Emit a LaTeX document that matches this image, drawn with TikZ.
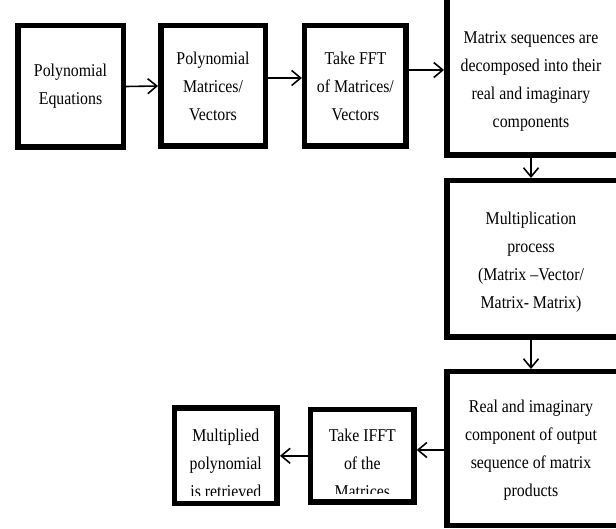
\documentclass[tikz,border=0pt]{standalone}
\usepackage{fontspec}
\setmainfont{Liberation Serif}[FakeStretch=0.88]
\usetikzlibrary{arrows.meta}
\begin{document}
\begin{tikzpicture}[x=1pt,y=-1pt,
  box/.style={draw=black, line width=5.5pt, fill=white, rectangle, inner sep=0pt},
  txt/.style={align=center, inner sep=0pt, font=\fontsize{18}{28}\selectfont},
  arr/.style={line width=1.6pt, -{Straight Barb[length=9pt,width=15pt,line width=1.6pt]}}]
\clip (0,0) rectangle (616,529);
\fill[white] (0,0) rectangle (616,529);
% top row
\node[box, minimum width=105.5pt, minimum height=121.5pt, txt] (b1) at (70.5,86.5) {Polynomial\\Equations};
\node[box, minimum width=104.5pt, minimum height=120.5pt, txt] (b2) at (213,86) {Polynomial\\Matrices/\\Vectors};
\node[box, minimum width=101.5pt, minimum height=120.5pt, txt] (b3) at (355.4,86) {Take FFT\\of Matrices/\\Vectors};
\node[box, minimum width=180.5pt, minimum height=182.5pt] (b4) at (537,64) {};
\node[txt] (t4) at (531,81) {Matrix sequences are\\decomposed into their\\real and imaginary\\components};
% right column
\node[box, minimum width=180.5pt, minimum height=156.5pt] (b5) at (537,259) {};
\node[txt] (t5) at (531,262) {Multiplication\\process\\(Matrix –Vector/\\Matrix- Matrix)};
\node[box, minimum width=180.5pt, minimum height=153.5pt] (b6) at (537,448.5) {};
\node[txt] (t6) at (531,450) {Real and imaginary\\component of output\\sequence of matrix\\products};
% bottom row
\node[box, minimum width=103.2pt, minimum height=92.8pt] (b7) at (362.3,455.8) {};
\node[box, minimum width=102.8pt, minimum height=95.5pt] (b8) at (225.8,455.5) {};
\begin{scope}
  \clip ([xshift=5pt,yshift=-5pt]b7.north west) rectangle ([xshift=-5pt,yshift=11pt]b7.south east);
  \node[txt] (t7) at (362.3,463.5) {Take IFFT\\of the\\Matrices};
\end{scope}
\begin{scope}
  \clip ([xshift=5pt,yshift=-5pt]b8.north west) rectangle ([xshift=-5pt,yshift=11pt]b8.south east);
  \node[txt] (t8) at (225.8,463.5) {Multiplied\\polynomial\\is retrieved};
\end{scope}
% connectors
\draw[arr] (b1.east) -- (b2.west);
\draw[arr] ([yshift=8pt]b2.east) -- ([yshift=8pt]b2.east -| b3.west);
\draw[arr] ([yshift=16pt]b3.east) -- ([yshift=16pt]b3.east -| b4.west);
\draw[arr] (t4.center |- b4.south) -- (t4.center |- b5.north);
\draw[arr] (t5.center |- b5.south) -- (t5.center |- b6.north);
\draw[arr] ([yshift=-1.5pt]b6.west) -- ([yshift=-1.5pt]b6.west -| b7.east);
\draw[arr] (b7.west) -- (b7.west -| b8.east);
\end{tikzpicture}
\end{document}
